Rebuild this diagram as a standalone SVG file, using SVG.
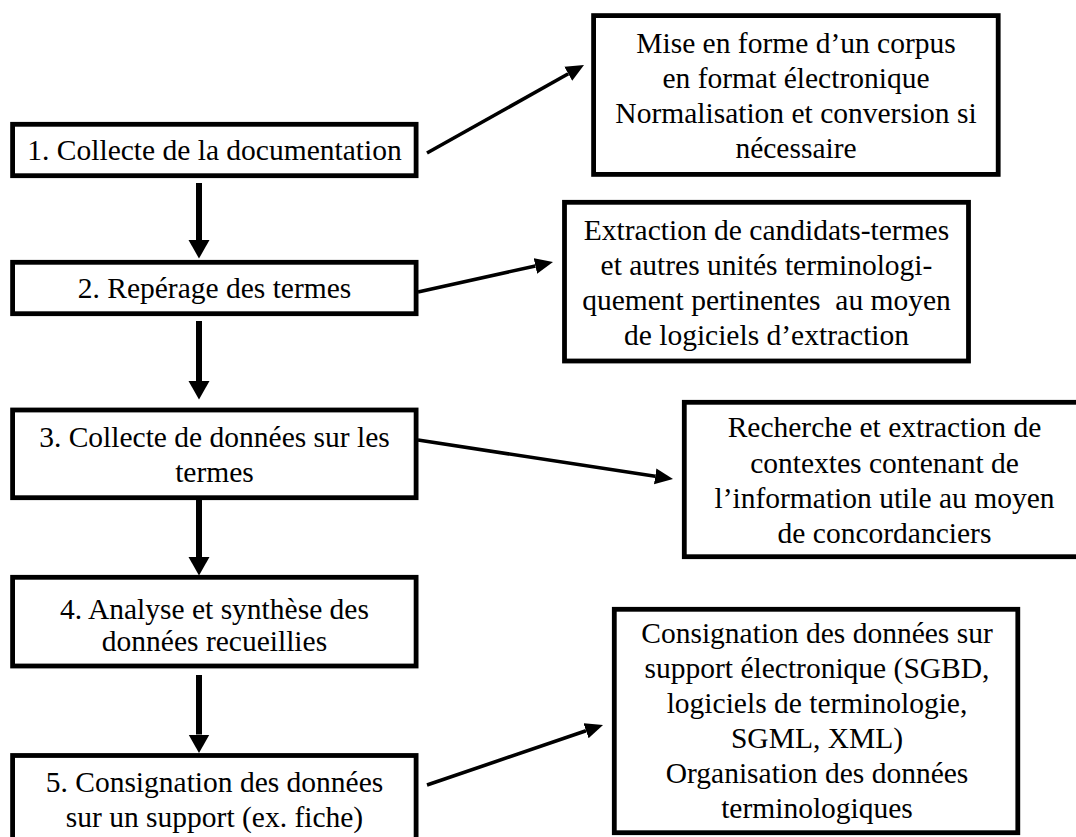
<svg xmlns="http://www.w3.org/2000/svg" width="1076" height="837" viewBox="0 0 1076 837">
  <style>
    .box { fill: #ffffff; stroke: #000000; stroke-width: 4.8; }
    .lbl { font-family: 'Liberation Serif', 'Times New Roman', Tinos, 'DejaVu Serif', serif; font-size: 29.5px; fill: #000000; text-anchor: middle; }
    .flow { stroke: #000000; stroke-width: 6; fill: none; }
    .side { stroke: #000000; stroke-width: 3.6; fill: none; }
  </style>
  <defs>
    <marker id="headBig" markerUnits="userSpaceOnUse" markerWidth="19" markerHeight="22" refX="0" refY="11" orient="auto">
      <path d="M0,0.5 L18.5,11 L0,21.5 z" fill="#000000"/>
    </marker>
    <marker id="headSmall" markerUnits="userSpaceOnUse" markerWidth="19" markerHeight="17" refX="0" refY="8.5" orient="auto">
      <path d="M0,0.5 L18,8.5 L0,16.5 z" fill="#000000"/>
    </marker>
  </defs>

  <rect width="1076" height="837" fill="#ffffff"/>

  <!-- main process steps (left column) -->
  <g id="step1">
    <rect class="box" x="12.6" y="124.3" width="403.5" height="51.4"/>
    <text class="lbl" x="214.5" y="160">1. Collecte de la documentation</text>
  </g>
  <g id="step2">
    <rect class="box" x="12.6" y="262.3" width="403.5" height="51.4"/>
    <text class="lbl" x="214.5" y="298">2. Repérage des termes</text>
  </g>
  <g id="step3">
    <rect class="box" x="12.6" y="410" width="403.5" height="87.7"/>
    <text class="lbl" x="214.5" y="447">3. Collecte de données sur les</text>
    <text class="lbl" x="214.5" y="482">termes</text>
  </g>
  <g id="step4">
    <rect class="box" x="12.6" y="577.3" width="403.5" height="88.7"/>
    <text class="lbl" x="214.5" y="619">4. Analyse et synthèse des</text>
    <text class="lbl" x="214.5" y="651">données recueillies</text>
  </g>
  <g id="step5">
    <rect class="box" x="12.6" y="755.5" width="403.5" height="110"/>
    <text class="lbl" x="214.5" y="792">5. Consignation des données</text>
    <text class="lbl" x="214.5" y="827">sur un support (ex. fiche)</text>
  </g>

  <!-- detail boxes (right column) -->
  <g id="detail1">
    <rect class="box" x="593.6" y="15.6" width="404.6" height="158.8"/>
    <text class="lbl" x="796" y="53">Mise en forme d’un corpus</text>
    <text class="lbl" x="796" y="88">en format électronique</text>
    <text class="lbl" x="796" y="123">Normalisation et conversion si</text>
    <text class="lbl" x="796" y="158">nécessaire</text>
  </g>
  <g id="detail2">
    <rect class="box" x="564.5" y="202.3" width="404" height="158.7"/>
    <text class="lbl" x="766.5" y="240">Extraction de candidats-termes</text>
    <text class="lbl" x="766.5" y="275">et autres unités terminologi-</text>
    <text class="lbl" x="766.5" y="310" xml:space="preserve">quement pertinentes  au moyen</text>
    <text class="lbl" x="766.5" y="345">de logiciels d’extraction</text>
  </g>
  <g id="detail3">
    <rect class="box" x="684.3" y="402.3" width="404" height="154.4"/>
    <text class="lbl" x="884.5" y="437">Recherche et extraction de</text>
    <text class="lbl" x="884.5" y="473">contextes contenant de</text>
    <text class="lbl" x="884.5" y="508">l’information utile au moyen</text>
    <text class="lbl" x="884.5" y="543">de concordanciers</text>
  </g>
  <g id="detail4">
    <rect class="box" x="614.3" y="609.3" width="403.5" height="223.4"/>
    <text class="lbl" x="817" y="643">Consignation des données sur</text>
    <text class="lbl" x="817" y="678">support électronique (SGBD,</text>
    <text class="lbl" x="817" y="713">logiciels de terminologie,</text>
    <text class="lbl" x="817" y="748">SGML, XML)</text>
    <text class="lbl" x="817" y="783">Organisation des données</text>
    <text class="lbl" x="817" y="818">terminologiques</text>
  </g>

  <!-- connectors -->
  <g id="connectors">
    <line class="flow" x1="199" y1="183" x2="199" y2="240" marker-end="url(#headBig)"/>
    <line class="flow" x1="199" y1="321" x2="199" y2="381" marker-end="url(#headBig)"/>
    <line class="flow" x1="199" y1="500" x2="199" y2="557" marker-end="url(#headBig)"/>
    <line class="flow" x1="199" y1="675" x2="199" y2="734.5" marker-end="url(#headBig)"/>

    <line class="side" x1="427" y1="153" x2="568.3" y2="73.8" marker-end="url(#headSmall)"/>
    <line class="side" x1="418" y1="292" x2="535.4" y2="265.9" marker-end="url(#headSmall)"/>
    <line class="side" x1="418" y1="440" x2="655.2" y2="476.3" marker-end="url(#headSmall)"/>
    <line class="side" x1="427" y1="785" x2="586" y2="730.8" marker-end="url(#headSmall)"/>
  </g>
</svg>
